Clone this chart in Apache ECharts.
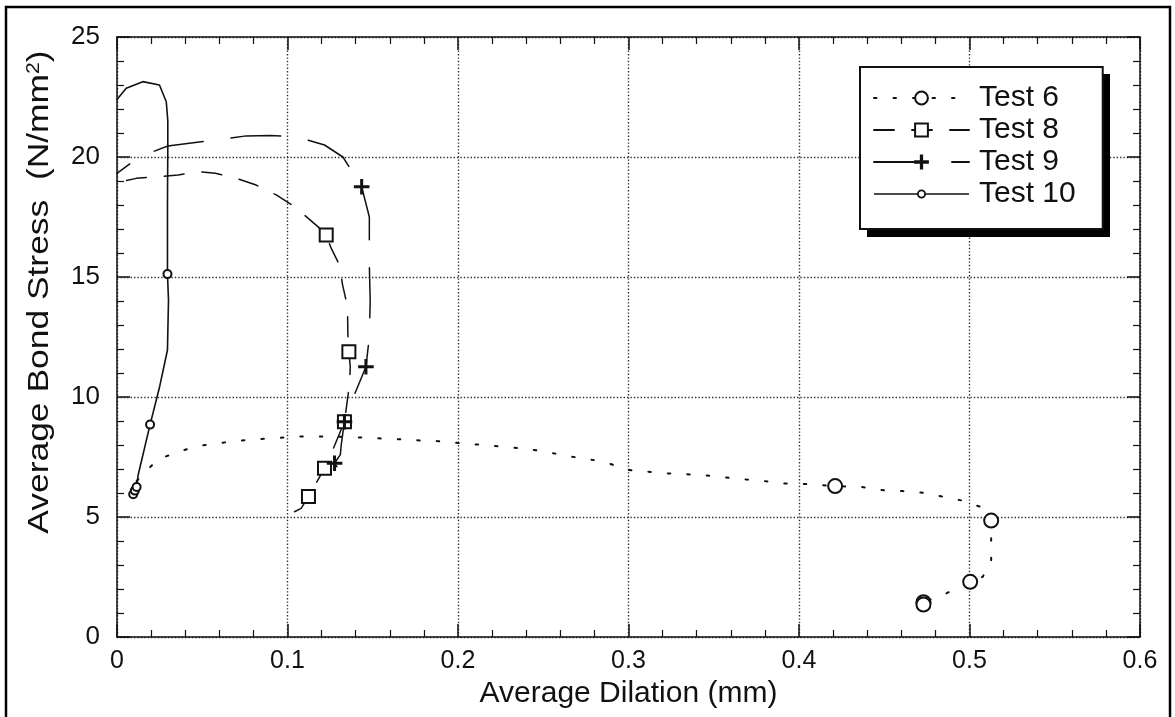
<!DOCTYPE html>
<html>
<head>
<meta charset="utf-8">
<script src="https://cdn.jsdelivr.net/npm/echarts@6/dist/echarts.min.js"></script>
<style>
  html, body { margin: 0; padding: 0; background: #fff; }
  #chart { width: 1175px; height: 717px; }
</style>
</head>
<body>
<div id="chart"></div>
<script>
// Axis ticks
const xTickLabels = ['0', '0.1', '0.2', '0.3', '0.4', '0.5', '0.6'];
const yTickLabels = ['0', '5', '10', '15', '20', '25'];
const seriesNames = ['Test 6', 'Test 8', 'Test 9', 'Test 10'];

// Test 6: dilation (mm) / bond stress (N/mm2); marks = indices that carry a marker
const test6X = [0.0115, 0.0239, 0.0362, 0.0474, 0.0591, 0.0699, 0.0816, 0.0934, 0.1051, 0.1168,
  0.1292, 0.1403, 0.1520, 0.1628, 0.1745, 0.1862, 0.1970, 0.2077, 0.2195, 0.2308,
  0.2423, 0.2537, 0.2648, 0.2761, 0.2875, 0.2992, 0.3113, 0.3221, 0.3334, 0.3450,
  0.3567, 0.3680, 0.3794, 0.3905, 0.4022, 0.4130, 0.4212, 0.4368, 0.4497, 0.4608,
  0.4726, 0.4843, 0.4960, 0.5078, 0.5127, 0.5127, 0.5127, 0.5078, 0.5004, 0.4853,
  0.4730, 0.4730];
const test6Y = [6.50, 7.40, 7.72, 7.96, 8.07, 8.17, 8.24, 8.29, 8.35, 8.35,
  8.35, 8.32, 8.28, 8.25, 8.20, 8.17, 8.10, 8.04, 7.97, 7.90,
  7.82, 7.69, 7.53, 7.42, 7.26, 6.96, 6.89, 6.82, 6.78, 6.74,
  6.65, 6.57, 6.50, 6.40, 6.38, 6.33, 6.29, 6.25, 6.11, 6.08,
  6.01, 5.85, 5.68, 5.39, 4.85, 3.97, 3.18, 2.51, 2.30, 1.78,
  1.45, 1.35];
const test6Marks = [36, 44, 48, 50, 51];

// Test 8
const test8X = [0.1041, 0.1080, 0.1123, 0.1217, 0.1266, 0.1334, 0.1365, 0.1368, 0.1360, 0.1354,
  0.1352, 0.1323, 0.1305, 0.1256, 0.1227, 0.1178, 0.1041, 0.0934, 0.0816, 0.0699,
  0.0577, 0.0475, 0.0358, 0.0240, 0.0113, 0.0040];
const test8Y = [5.22, 5.36, 5.85, 7.03, 7.80, 8.97, 10.60, 11.26, 11.89, 12.60,
  13.76, 14.67, 15.50, 16.20, 16.75, 17.10, 17.93, 18.42, 18.83, 19.11,
  19.32, 19.39, 19.25, 19.18, 19.11, 19.00];
const test8Marks = [2, 3, 5, 8, 14];

// Test 9
const test9X = [0.1290, 0.1276, 0.1310, 0.1315, 0.1334, 0.1364, 0.1460, 0.1480, 0.1485, 0.1480,
  0.1480, 0.1435, 0.1325, 0.1217, 0.1051, 0.0900, 0.0758, 0.0582, 0.0298, 0.0130,
  0.0000];
const test9Y = [7.10, 7.24, 7.60, 8.00, 8.97, 9.60, 11.26, 12.50, 14.00, 15.50,
  17.50, 18.76, 20.00, 20.50, 20.85, 20.90, 20.88, 20.71, 20.46, 20.00,
  19.32];
const test9Marks = [1, 4, 6, 11];

// Test 10
const test10X = [0.0095, 0.0105, 0.0115, 0.0124, 0.0194, 0.0250, 0.0296, 0.0302, 0.0296, 0.0296,
  0.0298, 0.0298, 0.0289, 0.0249, 0.0151, 0.0054, 0.0000];
const test10Y = [5.95, 6.10, 6.25, 6.75, 8.85, 10.43, 11.96, 14.04, 15.12, 18.00,
  20.46, 21.50, 22.30, 23.00, 23.14, 22.86, 22.40];
const test10Marks = [0, 1, 2, 4, 8];

const FONT = '"Liberation Sans", Arial, Helvetica, sans-serif';
const INK = '#111';

function buildData(xs, ys, marks) {
  return xs.map(function (x, i) {
    const item = { value: [x, ys[i]] };
    if (marks.indexOf(i) < 0) item.symbol = 'none';
    return item;
  });
}

const plusPath = 'path://M9,0H11V9H20V11H11V20H9V11H0V9H9Z';

// Legend key for Test 10: solid line broken by a small open ring (95 x 16 box)
const ringKeyPath = 'path://M0,0H0.05V0.05Z M94.95,16H95V15.95Z' +
  ' M0,7.2H43.3V8.8H0Z M51.7,7.2H95V8.8H51.7Z' +
  ' M43,8A4.5,4.5 0 1,1 52,8A4.5,4.5 0 1,1 43,8Z' +
  ' M44.8,8A2.7,2.7 0 1,0 50.2,8A2.7,2.7 0 1,0 44.8,8Z';

function lineSeries(name, xs, ys, marks, dash, width, symbol, size) {
  return {
    name: name,
    type: 'line',
    data: buildData(xs, ys, marks),
    symbol: symbol,
    symbolSize: size,
    showSymbol: true,
    smooth: false,
    animation: false,
    lineStyle: { color: INK, width: width, type: dash, cap: 'round' },
    itemStyle: { color: INK, borderColor: INK, borderWidth: 1.6 },
    emphasis: { disabled: true }
  };
}

const chart = echarts.init(document.getElementById('chart'), null, { renderer: 'canvas' });

const frameAxis = {
  min: 0,
  axisLine: { show: true, onZero: false, lineStyle: { color: INK, width: 1.5 } },
  axisTick: { show: true, inside: true, length: 13, lineStyle: { color: INK, width: 1.5 } },
  minorTick: { show: true, splitNumber: 5, length: 7, lineStyle: { color: INK, width: 1.2 } },
  axisLabel: { show: false },
  splitLine: { show: false }
};

const option = {
  backgroundColor: '#fff',
  animation: false,
  grid: { left: 117, right: 35, top: 37, bottom: 80, containLabel: false },
  xAxis: [
    {
      type: 'value', position: 'bottom', min: 0, max: 0.6, interval: 0.1,
      axisLine: { show: true, onZero: false, lineStyle: { color: INK, width: 1.5 } },
      axisTick: { show: true, inside: true, length: 13, lineStyle: { color: INK, width: 1.5 } },
      minorTick: { show: true, splitNumber: 5, length: 7, lineStyle: { color: INK, width: 1.2 } },
      splitLine: { show: true, lineStyle: { color: '#333', width: 1.4, type: [1.4, 2] } },
      axisLabel: {
        color: INK, fontSize: 25, fontFamily: FONT, margin: 12,
        formatter: function (v) { return xTickLabels[Math.round(v * 10)]; }
      },
      name: 'Average Dilation (mm)', nameLocation: 'middle', nameGap: 42,
      nameTextStyle: { color: INK, fontSize: 30, fontFamily: FONT }
    },
    Object.assign({ type: 'value', position: 'top', max: 0.6, interval: 0.1 }, frameAxis)
  ],
  yAxis: [
    {
      type: 'value', position: 'left', min: 0, max: 25, interval: 5,
      axisLine: { show: true, onZero: false, lineStyle: { color: INK, width: 1.5 } },
      axisTick: { show: true, inside: true, length: 13, lineStyle: { color: INK, width: 1.5 } },
      minorTick: { show: true, splitNumber: 5, length: 7, lineStyle: { color: INK, width: 1.2 } },
      splitLine: { show: true, lineStyle: { color: '#333', width: 1.4, type: [1.4, 2] } },
      axisLabel: {
        color: INK, fontSize: 26, fontFamily: FONT, margin: 17,
        formatter: function (v) { return yTickLabels[Math.round(v / 5)]; }
      }
    },
    Object.assign({ type: 'value', position: 'right', max: 25, interval: 5 }, frameAxis)
  ],
  legend: {
    orient: 'vertical',
    left: 860, top: 67, z: 10,
    data: [
      { name: seriesNames[0] },
      { name: seriesNames[1] },
      { name: seriesNames[2] },
      { name: seriesNames[3], icon: ringKeyPath, itemStyle: { color: INK, borderWidth: 0 } }
    ],
    itemWidth: 95, itemHeight: 16, itemGap: 2,
    padding: [16, 27, 20, 13],
    backgroundColor: '#fff',
    borderColor: INK, borderWidth: 2, borderRadius: 0,
    selectedMode: false,
    textStyle: { color: INK, fontSize: 30, fontFamily: FONT, lineHeight: 30, padding: [0, 0, 0, 5] }
  },
  series: [
    lineSeries('Test 6', test6X, test6Y, test6Marks, [2.5, 17], 2, 'emptyCircle', 14),
    lineSeries('Test 8', test8X, test8Y, test8Marks, [20, 18], 1.5, 'emptyRect', 13),
    lineSeries('Test 9', test9X, test9Y, test9Marks, [50, 28], 1.5, plusPath, 14),
    lineSeries('Test 10', test10X, test10Y, test10Marks, 'solid', 1.6, 'emptyCircle', 8)
  ],
  graphic: [
    {
      // drop shadow behind the legend box
      type: 'rect', silent: true, z: 9,
      shape: { x: 867, y: 74, width: 243, height: 163 },
      style: { fill: '#000' }
    },
    {
      type: 'rect', silent: true, z: 100,
      shape: { x: 6, y: 7, width: 1164, height: 760 },
      style: { fill: 'none', stroke: '#000', lineWidth: 2.5 }
    },
    {
      type: 'text', silent: true, z: 100,
      x: 40, y: 292, rotation: Math.PI / 2, scaleX: 1.18,
      style: {
        text: '{t|Average Bond Stress  (N/mm}{s|2}{t|)}',
        align: 'center', verticalAlign: 'middle',
        rich: {
          t: { fontSize: 30, fontFamily: FONT, fill: INK },
          s: { fontSize: 18, fontFamily: FONT, fill: INK, verticalAlign: 'top', padding: [0, 0, 12, 0] }
        }
      }
    }
  ]
};

chart.setOption(option);
</script>
</body>
</html>
